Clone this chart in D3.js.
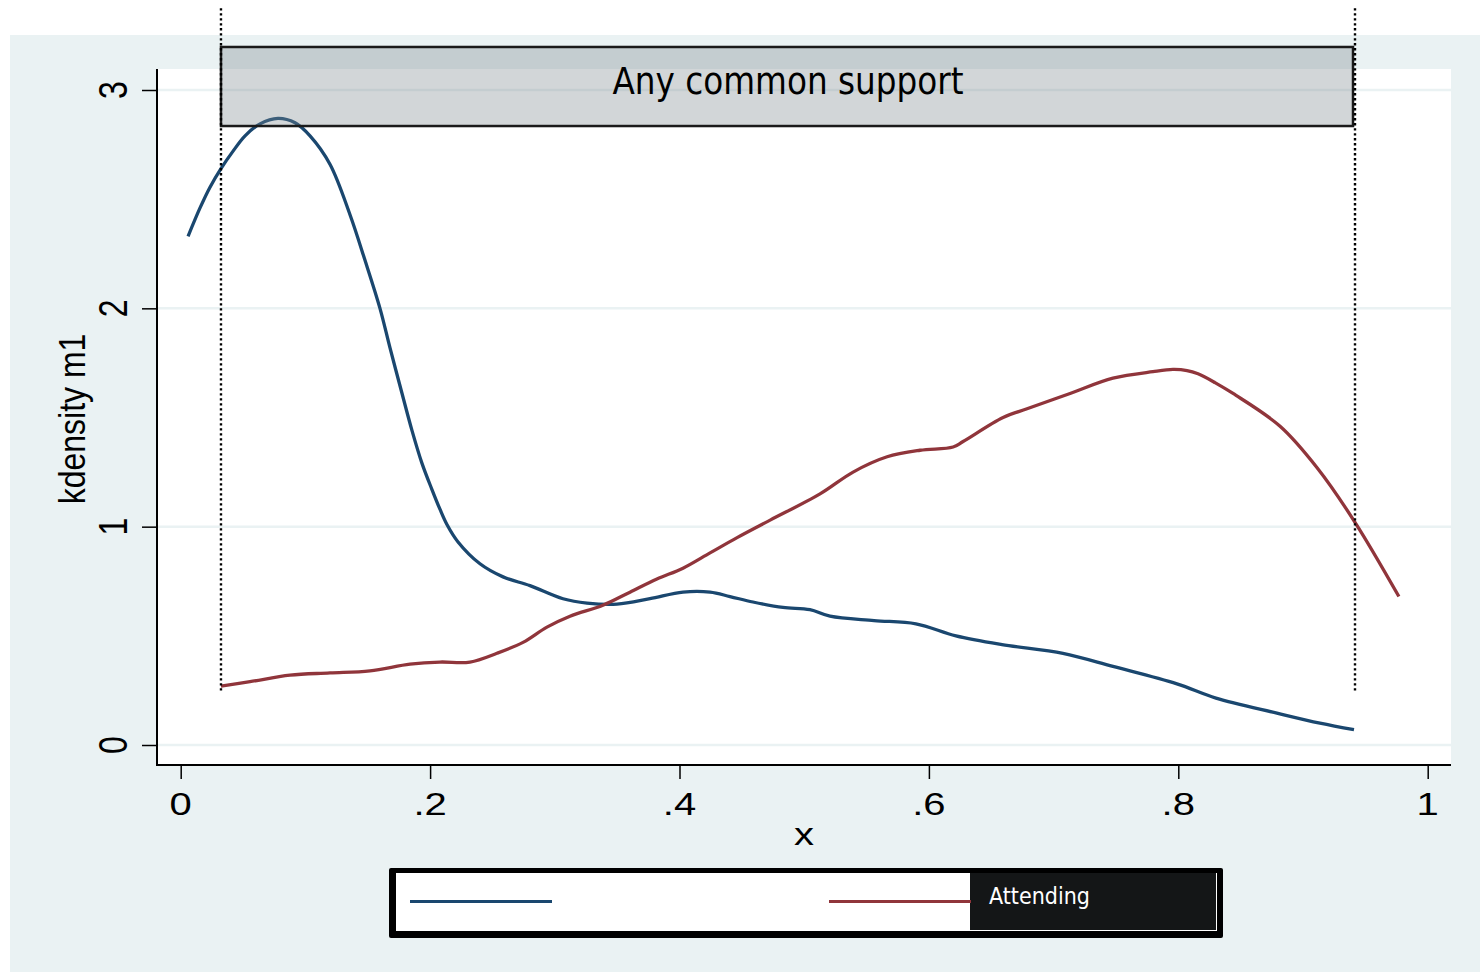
<!DOCTYPE html>
<html>
<head>
<meta charset="utf-8">
<script src="https://cdn.jsdelivr.net/npm/d3@7"></script>
<style>
  html, body { margin: 0; padding: 0; background: #ffffff; }
  svg { display: block; }
</style>
</head>
<body>
<svg id="chart" width="1480" height="972"></svg>
<script>
// Kernel density estimates of the propensity score, by group
const blueX = [0.0059, 0.0155, 0.0235, 0.0323, 0.042, 0.0516, 0.0636, 0.078, 0.0917, 0.1037,
  0.1197, 0.1357, 0.1478, 0.1598, 0.1678, 0.1775, 0.1855, 0.1935, 0.2015, 0.2079, 0.2135,
  0.2224, 0.24, 0.2585, 0.2801, 0.3066, 0.3258, 0.3499, 0.3763, 0.4028, 0.4245, 0.4405,
  0.4589, 0.483, 0.5046, 0.5207, 0.556, 0.5896, 0.6217, 0.6586, 0.7075, 0.7476, 0.7989,
  0.8302, 0.8791, 0.9136, 0.9409];
const blueY = [2.33, 2.46, 2.555, 2.64, 2.72, 2.79, 2.845, 2.87, 2.85, 2.79,
  2.66, 2.43, 2.22, 2.0, 1.82, 1.61, 1.44, 1.29, 1.17, 1.08, 1.01,
  0.93, 0.83, 0.77, 0.73, 0.67, 0.65, 0.645, 0.67, 0.70, 0.70, 0.68,
  0.655, 0.63, 0.62, 0.59, 0.57, 0.555, 0.50, 0.46, 0.42, 0.36, 0.28,
  0.215, 0.146, 0.10, 0.07];

const redX = [0.0323, 0.0556, 0.0877, 0.1197, 0.1518, 0.1839, 0.2079, 0.232, 0.2536, 0.2745,
  0.2937, 0.3122, 0.3386, 0.3603, 0.3819, 0.4028, 0.4245, 0.4462, 0.4727, 0.5127, 0.5392,
  0.5665, 0.5929, 0.6194, 0.6274, 0.6595, 0.6787, 0.7132, 0.7476, 0.7797, 0.7957, 0.807,
  0.8158, 0.8294, 0.8439, 0.8816, 0.9113, 0.9417, 0.9769];
const redY = [0.27, 0.29, 0.32, 0.33, 0.34, 0.37, 0.38, 0.38, 0.42, 0.47,
  0.54, 0.59, 0.64, 0.70, 0.76, 0.81, 0.88, 0.95, 1.03, 1.15, 1.25,
  1.32, 1.35, 1.365, 1.39, 1.50, 1.54, 1.61, 1.68, 1.71, 1.72, 1.715,
  1.70, 1.66, 1.61, 1.46, 1.27, 1.02, 0.68];

const seriesColors = ["#1a476f", "#90353b"];
const legendLabels = ["", "Attending"];

// Common-support bounds and the band drawn across them
const supportBounds = [0.0323, 0.9417];
const supportLineY = [0.24, 3.375];
const supportBoxY = [2.835, 3.197];
const supportLabel = "Any common support";

const xTicks = [0, 0.2, 0.4, 0.6, 0.8, 1];
const xTickLabels = ["0", ".2", ".4", ".6", ".8", "1"];
const yTicks = [0, 1, 2, 3];
const yTickLabels = ["0", "1", "2", "3"];
const xTitle = "x";
const yTitle = "kdensity m1";

const svg = d3.select("#chart");
const W = 1480, H = 972;
const plot = { left: 158, right: 1451, top: 69, bottom: 765 };

const x = d3.scaleLinear().domain([0, 1]).range([180.7, 1427.7]);
const y = d3.scaleLinear().domain([0, 3]).range([745, 90]);

// Graph region background
svg.append("rect").attr("x", 10).attr("y", 35).attr("width", W - 10).attr("height", H - 35)
  .attr("fill", "#eaf2f3");
svg.append("rect").attr("x", plot.left).attr("y", plot.top)
  .attr("width", plot.right - plot.left).attr("height", plot.bottom - plot.top)
  .attr("fill", "#ffffff");

// Horizontal grid
svg.append("g").selectAll("line").data(yTicks).join("line")
  .attr("x1", plot.left).attr("x2", plot.right)
  .attr("y1", d => y(d)).attr("y2", d => y(d))
  .attr("stroke", "#eaf2f3").attr("stroke-width", 2.5);

// Density curves
const line = d3.line().x(d => x(d[0])).y(d => y(d[1])).curve(d3.curveCatmullRom.alpha(0.5));
const series = [
  d3.zip(blueX, blueY),
  d3.zip(redX, redY)
];
svg.append("g").selectAll("path").data(series).join("path")
  .attr("d", line)
  .attr("fill", "none")
  .attr("stroke", (d, i) => seriesColors[i])
  .attr("stroke-width", 3.3)
  .attr("stroke-linejoin", "round")
  .attr("stroke-linecap", "butt");

// Common-support band
svg.append("rect")
  .attr("x", x(supportBounds[0])).attr("y", y(supportBoxY[1]))
  .attr("width", x(supportBounds[1]) - x(supportBounds[0]) - 2)
  .attr("height", y(supportBoxY[0]) - y(supportBoxY[1]))
  .attr("fill", "#7f8a90").attr("fill-opacity", 0.35)
  .attr("stroke", "#1a1a1a").attr("stroke-width", 2.5);

svg.append("text")
  .attr("x", (x(supportBounds[0]) + x(supportBounds[1])) / 2)
  .attr("y", 94)
  .attr("text-anchor", "middle")
  .attr("font-family", "'DejaVu Sans Condensed', 'DejaVu Sans', sans-serif")
  .attr("font-stretch", "condensed")
  .attr("font-size", 38)
  .attr("fill", "#000")
  .attr("textLength", 351)
  .attr("lengthAdjust", "spacingAndGlyphs")
  .text(supportLabel);

// Dotted bound lines
svg.append("g").selectAll("line").data(supportBounds).join("line")
  .attr("x1", d => x(d)).attr("x2", d => x(d))
  .attr("y1", y(supportLineY[1])).attr("y2", y(supportLineY[0]))
  .attr("stroke", "#000").attr("stroke-width", 2.4)
  .attr("stroke-dasharray", "2.4,2.6");

// Axes
const axisFont = "'Liberation Sans', Arial, sans-serif";
const stretch = 1.25;

const yAxis = svg.append("g").attr("transform", `translate(${plot.left - 1},0)`)
  .call(d3.axisLeft(y).tickValues(yTicks).tickSize(15).tickFormat(""));
yAxis.select(".domain").remove();
yAxis.selectAll(".tick line").attr("stroke", "#000").attr("stroke-width", 1.5);
svg.append("line").attr("x1", plot.left - 1).attr("x2", plot.left - 1)
  .attr("y1", plot.top).attr("y2", plot.bottom + 1)
  .attr("stroke", "#000").attr("stroke-width", 2);

const xAxis = svg.append("g").attr("transform", `translate(0,${plot.bottom})`)
  .call(d3.axisBottom(x).tickValues(xTicks).tickSize(14).tickFormat(""));
xAxis.select(".domain").remove();
xAxis.selectAll(".tick line").attr("stroke", "#000").attr("stroke-width", 1.5);
svg.append("line").attr("x1", plot.left - 2).attr("x2", plot.right)
  .attr("y1", plot.bottom).attr("y2", plot.bottom)
  .attr("stroke", "#000").attr("stroke-width", 2);

// Tick labels
svg.append("g").selectAll("text").data(xTicks).join("text")
  .attr("transform", d => `translate(${x(d)},815) scale(${stretch},1)`)
  .attr("text-anchor", "middle")
  .attr("font-family", axisFont).attr("font-size", 32).attr("fill", "#000")
  .text((d, i) => xTickLabels[i]);

svg.append("g").selectAll("text").data(yTicks).join("text")
  .attr("transform", d => `translate(127,${y(d)}) scale(${stretch},1) rotate(-90)`)
  .attr("text-anchor", "middle")
  .attr("font-family", axisFont).attr("font-size", 32).attr("fill", "#000")
  .text((d, i) => yTickLabels[i]);

// Axis titles
svg.append("text")
  .attr("transform", `translate(804,845) scale(${stretch},1)`)
  .attr("text-anchor", "middle")
  .attr("font-family", axisFont).attr("font-size", 32).attr("fill", "#000")
  .text(xTitle);

svg.append("text")
  .attr("transform", `translate(85,419) scale(1.18,1) rotate(-90)`)
  .attr("text-anchor", "middle")
  .attr("font-family", axisFont).attr("font-size", 32).attr("fill", "#000")
  .text(yTitle);

// Legend
const legend = svg.append("g");
legend.append("rect").attr("x", 389).attr("y", 868).attr("width", 834).attr("height", 70)
  .attr("rx", 2).attr("fill", "#000");
legend.append("rect").attr("x", 396).attr("y", 873).attr("width", 821).attr("height", 58)
  .attr("fill", "#ffffff");
legend.append("rect").attr("x", 970).attr("y", 873).attr("width", 246).attr("height", 57)
  .attr("fill", "#141617");

const keyX = [410, 829];
const keyW = 142;
legend.selectAll("line.key").data(seriesColors).join("line")
  .attr("class", "key")
  .attr("x1", (d, i) => keyX[i]).attr("x2", (d, i) => keyX[i] + keyW)
  .attr("y1", 901.5).attr("y2", 901.5)
  .attr("stroke", d => d).attr("stroke-width", 3);

legend.selectAll("text").data(legendLabels).join("text")
  .attr("x", (d, i) => keyX[i] + keyW + 18)
  .attr("y", 904)
  .attr("font-family", "'DejaVu Sans Condensed', 'DejaVu Sans', sans-serif")
  .attr("font-stretch", "condensed")
  .attr("font-size", 23)
  .attr("fill", "#ffffff")
  .attr("textLength", d => d ? 101 : null)
  .attr("lengthAdjust", "spacingAndGlyphs")
  .text(d => d);
</script>
</body>
</html>
